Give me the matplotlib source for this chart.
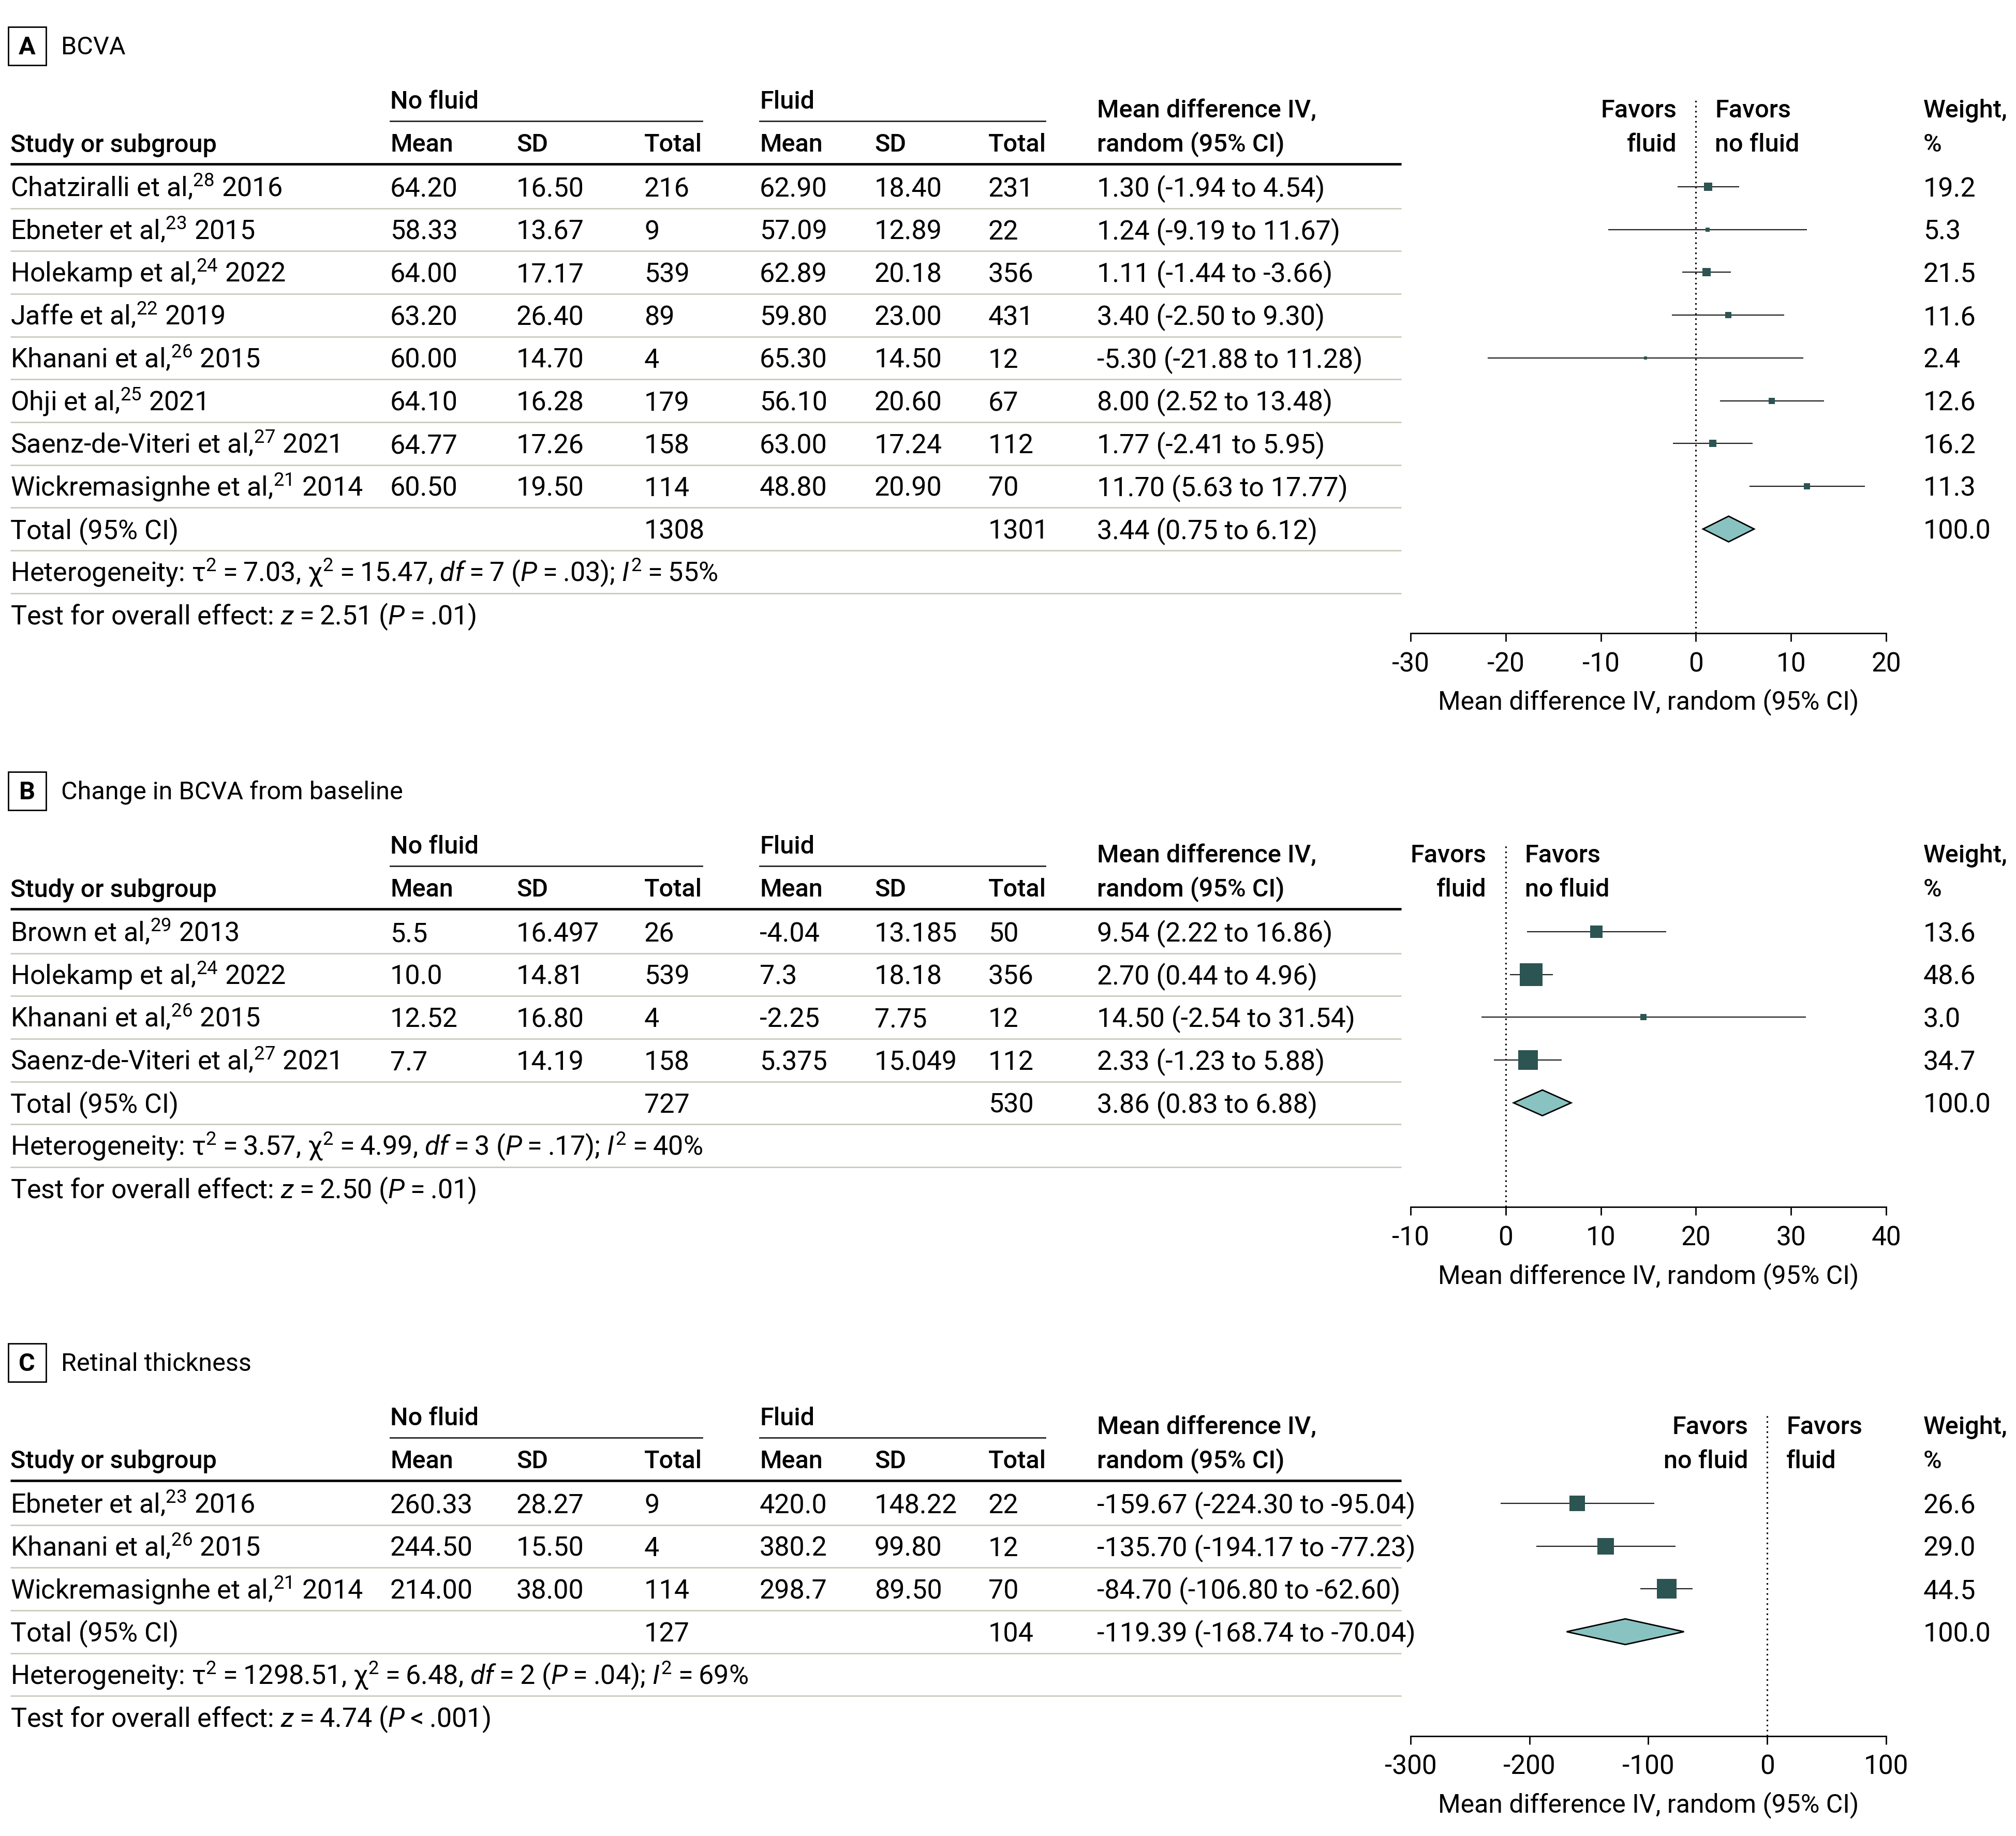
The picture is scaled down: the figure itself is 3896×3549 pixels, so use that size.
import numpy as np
import matplotlib
matplotlib.use("Agg")
import matplotlib.pyplot as plt
from matplotlib.patches import Rectangle, Polygon

## canvas in pixels
W, H = 3896, 3549
DPI = 100
FS = 35       # headers and titles
FS_B = 37.5   # table body text

plt.rcParams['font.family'] = ['Roboto', 'DejaVu Sans']
plt.rcParams['mathtext.fontset'] = 'custom'
plt.rcParams['mathtext.rm'] = 'Roboto'
plt.rcParams['mathtext.it'] = 'Roboto:italic'
plt.rcParams['mathtext.bf'] = 'Roboto:bold'
plt.rcParams['axes.unicode_minus'] = False

SQ_COLOR = '#2c5452'
DIA_COLOR = '#88c3c1'
SEP_COLOR = '#c9ccbb'

# ---------------- A: BCVA ----------------
a_names = ["Chatziralli et al,$^{28}$ 2016", "Ebneter et al,$^{23}$ 2015",
           "Holekamp et al,$^{24}$ 2022", "Jaffe et al,$^{22}$ 2019",
           "Khanani et al,$^{26}$ 2015", "Ohji et al,$^{25}$ 2021",
           "Saenz-de-Viteri et al,$^{27}$ 2021", "Wickremasignhe et al,$^{21}$ 2014"]
a_nf_mean = ["64.20", "58.33", "64.00", "63.20", "60.00", "64.10", "64.77", "60.50"]
a_nf_sd = ["16.50", "13.67", "17.17", "26.40", "14.70", "16.28", "17.26", "19.50"]
a_nf_n = ["216", "9", "539", "89", "4", "179", "158", "114"]
a_f_mean = ["62.90", "57.09", "62.89", "59.80", "65.30", "56.10", "63.00", "48.80"]
a_f_sd = ["18.40", "12.89", "20.18", "23.00", "14.50", "20.60", "17.24", "20.90"]
a_f_n = ["231", "22", "356", "431", "12", "67", "112", "70"]
a_ci_text = ["1.30 (-1.94 to 4.54)", "1.24 (-9.19 to 11.67)", "1.11 (-1.44 to -3.66)",
             "3.40 (-2.50 to 9.30)", "-5.30 (-21.88 to 11.28)", "8.00 (2.52 to 13.48)",
             "1.77 (-2.41 to 5.95)", "11.70 (5.63 to 17.77)"]
a_est = [1.30, 1.24, 1.11, 3.40, -5.30, 8.00, 1.77, 11.70]
a_lo = [-1.94, -9.19, -1.44, -2.50, -21.88, 2.52, -2.41, 5.63]
a_hi = [4.54, 11.67, 3.66, 9.30, 11.28, 13.48, 5.95, 17.77]
a_weight = [19.2, 5.3, 21.5, 11.6, 2.4, 12.6, 16.2, 11.3]
a_total = ["1308", "1301", "3.44 (0.75 to 6.12)", "100.0"]
a_pooled = (3.44, 0.75, 6.12)
a_het = "Heterogeneity: τ$^{2}$\u2009=\u20097.03, χ$^{2}$\u2009=\u200915.47, $df$\u2009=\u20097 ($P$\u2009=\u2009.03); $I^{2}$\u2009=\u200955%"
a_test = "Test for overall effect: $z$\u2009=\u20092.51 ($P$\u2009=\u2009.01)"
a_ticks = [-30, -20, -10, 0, 10, 20]

# ---------------- B: change in BCVA ----------------
b_names = ["Brown et al,$^{29}$ 2013", "Holekamp et al,$^{24}$ 2022",
           "Khanani et al,$^{26}$ 2015", "Saenz-de-Viteri et al,$^{27}$ 2021"]
b_nf_mean = ["5.5", "10.0", "12.52", "7.7"]
b_nf_sd = ["16.497", "14.81", "16.80", "14.19"]
b_nf_n = ["26", "539", "4", "158"]
b_f_mean = ["-4.04", "7.3", "-2.25", "5.375"]
b_f_sd = ["13.185", "18.18", "7.75", "15.049"]
b_f_n = ["50", "356", "12", "112"]
b_ci_text = ["9.54 (2.22 to 16.86)", "2.70 (0.44 to 4.96)",
             "14.50 (-2.54 to 31.54)", "2.33 (-1.23 to 5.88)"]
b_est = [9.54, 2.70, 14.50, 2.33]
b_lo = [2.22, 0.44, -2.54, -1.23]
b_hi = [16.86, 4.96, 31.54, 5.88]
b_weight = [13.6, 48.6, 3.0, 34.7]
b_total = ["727", "530", "3.86 (0.83 to 6.88)", "100.0"]
b_pooled = (3.86, 0.83, 6.88)
b_het = "Heterogeneity: τ$^{2}$\u2009=\u20093.57, χ$^{2}$\u2009=\u20094.99, $df$\u2009=\u20093 ($P$\u2009=\u2009.17); $I^{2}$\u2009=\u200940%"
b_test = "Test for overall effect: $z$\u2009=\u20092.50 ($P$\u2009=\u2009.01)"
b_ticks = [-10, 0, 10, 20, 30, 40]

# ---------------- C: retinal thickness ----------------
c_names = ["Ebneter et al,$^{23}$ 2016", "Khanani et al,$^{26}$ 2015",
           "Wickremasignhe et al,$^{21}$ 2014"]
c_nf_mean = ["260.33", "244.50", "214.00"]
c_nf_sd = ["28.27", "15.50", "38.00"]
c_nf_n = ["9", "4", "114"]
c_f_mean = ["420.0", "380.2", "298.7"]
c_f_sd = ["148.22", "99.80", "89.50"]
c_f_n = ["22", "12", "70"]
c_ci_text = ["-159.67 (-224.30 to -95.04)", "-135.70 (-194.17 to -77.23)",
             "-84.70 (-106.80 to -62.60)"]
c_est = [-159.67, -135.70, -84.70]
c_lo = [-224.30, -194.17, -106.80]
c_hi = [-95.04, -77.23, -62.60]
c_weight = [26.6, 29.0, 44.5]
c_total = ["127", "104", "-119.39 (-168.74 to -70.04)", "100.0"]
c_pooled = (-119.39, -168.74, -70.04)
c_het = "Heterogeneity: τ$^{2}$\u2009=\u20091298.51, χ$^{2}$\u2009=\u20096.48, $df$\u2009=\u20092 ($P$\u2009=\u2009.04); $I^{2}$\u2009=\u200969%"
c_test = "Test for overall effect: $z$\u2009=\u20094.74 ($P$\u2009<\u2009.001)"
c_ticks = [-300, -200, -100, 0, 100]

# column x positions (pixels)
X_STUDY = 20
X_COLS = [754, 998, 1245, 1468, 1690, 1910]
X_CI = 2120
X_WEIGHT = 3717
X_AX0, X_AX1 = 2726, 3645
X_LINE_END = 2708
DY = 82.7
BASE = 16    # baseline offset below row centre (headers)
BASE_B = 19  # same for body text

fig = plt.figure(figsize=(W / DPI, H / DPI), dpi=DPI)
bg = fig.add_axes([0, 0, 1, 1])
bg.set_xlim(0, W)
bg.set_ylim(H, 0)
bg.axis('off')


def txt(x, y, s, bold=False, ha='left', size=None):
    if size is None:
        size = FS if bold else FS_B
    off = BASE if size == FS else BASE_B
    bg.text(x, y + off, s, fontsize=size, ha=ha, va='baseline',
            fontweight='medium' if bold else 'normal', color='black')


def draw_panel(top, letter, title, names, nf_mean, nf_sd, nf_n, f_mean, f_sd, f_n,
               ci_text, est, lo, hi, weight, total, pooled, het, test, ticks,
               fav_left, fav_right, sq_k):
    n = len(names)
    row0 = top + 272

    def ry(i):
        return row0 + i * DY

    # panel label and title
    bg.add_patch(Rectangle((16, top - 37), 73, 74, fill=False, lw=2, ec='black'))
    bg.text(52, top + BASE, letter, fontsize=FS, fontweight='bold', ha='center', va='baseline')
    txt(118, top, title, size=FS)

    # headers
    txt(X_COLS[0], top + 105, "No fluid", bold=True)
    txt(X_COLS[3], top + 105, "Fluid", bold=True)
    bg.plot([X_COLS[0], 1357], [top + 145, top + 145], color='#222222', lw=2)
    bg.plot([X_COLS[3], 2020], [top + 145, top + 145], color='#222222', lw=2)
    txt(X_STUDY, top + 188, "Study or subgroup", bold=True)
    for x, h in zip(X_COLS, ["Mean", "SD", "Total", "Mean", "SD", "Total"]):
        txt(x, top + 188, h, bold=True)
    txt(X_CI, top + 122, "Mean difference IV,", bold=True)
    txt(X_CI, top + 188, "random (95% CI)", bold=True)
    txt(X_WEIGHT, top + 122, "Weight,", bold=True)
    txt(X_WEIGHT, top + 188, "%", bold=True)
    bg.plot([X_STUDY, X_LINE_END], [top + 228, top + 228], color='black', lw=3.4,
            solid_capstyle='butt')

    # study rows
    for i in range(n):
        y = ry(i)
        txt(X_STUDY, y, names[i])
        for x, v in zip(X_COLS, [nf_mean[i], nf_sd[i], nf_n[i], f_mean[i], f_sd[i], f_n[i]]):
            txt(x, y, v)
        txt(X_CI, y, ci_text[i])
        txt(X_WEIGHT, y, "%.1f" % weight[i])
    # total rows
    txt(X_STUDY, ry(n), "Total (95% CI)")
    txt(X_COLS[2], ry(n), total[0])
    txt(X_COLS[5], ry(n), total[1])
    txt(X_CI, ry(n), total[2])
    txt(X_WEIGHT, ry(n), total[3])
    txt(X_STUDY, ry(n + 1), het)
    txt(X_STUDY, ry(n + 2), test)
    for i in range(n + 2):
        bg.plot([X_STUDY, X_LINE_END], [ry(i) + 41.5, ry(i) + 41.5], color=SEP_COLOR,
                lw=2, solid_capstyle='butt')

    # forest axes
    top_pix = top + 100
    bot_pix = ry(n + 2) + 36
    ax = fig.add_axes([X_AX0 / W, 1 - bot_pix / H, (X_AX1 - X_AX0) / W,
                       (bot_pix - top_pix) / H])
    ax.patch.set_visible(False)
    ax.set_xlim(ticks[0], ticks[-1])
    ax.set_ylim((bot_pix - row0) / DY, (top_pix - row0) / DY)
    for s in ['top', 'left', 'right']:
        ax.spines[s].set_visible(False)
    ax.spines['bottom'].set_linewidth(2)
    ax.set_yticks([])
    ax.set_xticks(ticks)
    ax.tick_params(axis='x', length=11.5, width=2, labelsize=37, pad=14)
    ax.set_xlabel("Mean difference IV, random (95% CI)", fontsize=36, labelpad=16)
    ax.axvline(0, color='black', lw=2.2, ls=(0, (1, 2.2)))

    for i in range(n):
        ax.plot([lo[i], hi[i]], [i, i], color='#1f1f1f', lw=1.6, solid_capstyle='butt')
        side = sq_k * np.sqrt(weight[i])
        ax.plot([est[i]], [i], marker='s', ms=side * 72 / DPI, color=SQ_COLOR, mew=0)
    pe, pl, ph = pooled
    ax.add_patch(Polygon([(pl, n), (pe, n - 0.3), (ph, n), (pe, n + 0.3)], closed=True,
                         fc=DIA_COLOR, ec='black', lw=2))

    # favors labels
    yl1 = (top + 122 + BASE - row0) / DY
    yl2 = (top + 188 + BASE - row0) / DY
    for s, yy in zip(fav_left, [yl1, yl2]):
        ax.annotate(s, xy=(0, yy), xycoords='data', xytext=(-26.5, 0),
                    textcoords='offset points', ha='right', va='baseline',
                    fontsize=FS, fontweight='medium', annotation_clip=False)
    for s, yy in zip(fav_right, [yl1, yl2]):
        ax.annotate(s, xy=(0, yy), xycoords='data', xytext=(26.5, 0),
                    textcoords='offset points', ha='left', va='baseline',
                    fontsize=FS, fontweight='medium', annotation_clip=False)
    return ax


draw_panel(89, "A", "BCVA", a_names, a_nf_mean, a_nf_sd, a_nf_n, a_f_mean, a_f_sd, a_f_n,
           a_ci_text, a_est, a_lo, a_hi, a_weight, a_total, a_pooled, a_het, a_test, a_ticks,
           ["Favors", "fluid"], ["Favors", "no fluid"], 3.6)
draw_panel(1529, "B", "Change in BCVA from baseline", b_names, b_nf_mean, b_nf_sd, b_nf_n,
           b_f_mean, b_f_sd, b_f_n, b_ci_text, b_est, b_lo, b_hi, b_weight, b_total,
           b_pooled, b_het, b_test, b_ticks, ["Favors", "fluid"], ["Favors", "no fluid"], 6.4)
draw_panel(2634, "C", "Retinal thickness", c_names, c_nf_mean, c_nf_sd, c_nf_n,
           c_f_mean, c_f_sd, c_f_n, c_ci_text, c_est, c_lo, c_hi, c_weight, c_total,
           c_pooled, c_het, c_test, c_ticks, ["Favors", "no fluid"], ["Favors", "fluid"], 5.8)

fig.savefig("out.png", dpi=DPI, facecolor='white')
